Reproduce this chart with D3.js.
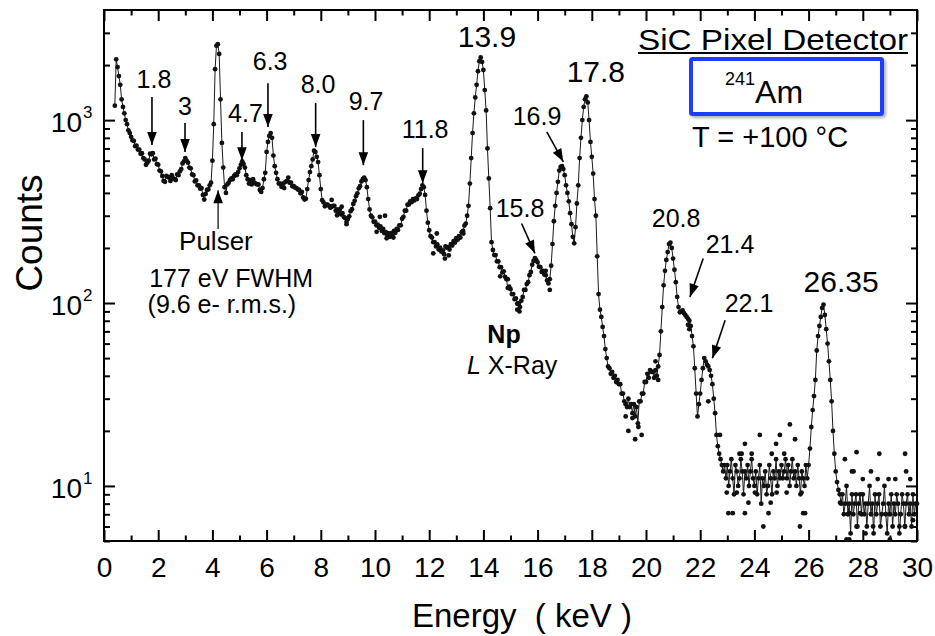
<!DOCTYPE html>
<html>
<head>
<meta charset="utf-8">
<script src="https://cdn.jsdelivr.net/npm/d3@7"></script>
<style>
  html, body { margin: 0; padding: 0; background: #ffffff; }
  svg { display: block; font-family: "Liberation Sans", Arial, Helvetica, sans-serif; }
</style>
</head>
<body>
<svg id="chart" width="935" height="636"></svg>
<script>
// ---- Spectrum: 241Am source, SiC pixel detector at +100 °C ----
// Channel calibration: first bin energy and bin width (keV)
const binStart = 0.40;
const binWidth = 0.05;

// Counts per bin, one row per keV
const counts = [
  1200, 2150, 1950, 1740, 1560, 1300, 1180, 1090, 1000, 950, 880, 850,                           // 0.40-0.95
  810, 775, 770, 720, 725, 690, 690, 655, 660, 620, 610, 570, 585, 600, 655, 650, 660, 610, 615, 575, // 1
  570, 530, 525, 495, 465, 460, 495, 490, 485, 465, 500, 480, 475, 470, 505, 500, 525, 540, 580, 595, // 2
  620, 600, 585, 550, 545, 505, 500, 462, 468, 440, 440, 422, 425, 390, 368, 395, 415, 418, 440, 455, // 3
  600, 950, 1900, 2550, 2600, 2300, 1300, 750, 550, 430, 400, 445, 455, 470, 480, 475, 495, 505, 500, 520, // 4
  545, 570, 595, 575, 550, 500, 475, 450, 470, 445, 475, 455, 450, 445, 445, 415, 405, 425, 475, 515, // 5
  670, 760, 820, 850, 800, 640, 560, 515, 475, 450, 450, 432, 450, 425, 460, 465, 485, 455, 455, 435, // 6
  435, 428, 425, 418, 415, 398, 405, 378, 368, 372, 420, 470, 520, 560, 610, 680, 670, 630, 590, 500, // 7
  420, 365, 355, 338, 345, 345, 340, 332, 336, 340, 340, 320, 325, 310, 325, 305, 310, 295, 292, 278, // 8
  288, 298, 318, 326, 348, 362, 384, 398, 424, 436, 462, 475, 485, 470, 430, 370, 325, 300, 294, 278, // 9
  279, 266, 268, 258, 262, 248, 254, 241, 244, 238, 240, 230, 241, 236, 248, 242, 254, 251, 266, 266, // 10
  289, 296, 320, 320, 345, 346, 360, 356, 370, 364, 373, 370, 388, 396, 420, 440, 430, 390, 320, 275, // 11
  250, 232, 228, 215, 215, 204, 209, 196, 201, 191, 194, 185, 204, 201, 202, 196, 210, 206, 218, 214, // 12
  226, 222, 232, 228, 244, 248, 265, 272, 300, 340, 450, 620, 850, 1090, 1330, 1560, 1850, 2100, 2200, 2080, // 13
  1880, 1460, 1130, 700, 480, 330, 215, 195, 183, 183, 169, 169, 157, 157, 147, 149, 139, 135, 121, 123, // 14
  119, 112, 112, 105, 106, 99, 100, 95, 103, 108, 118, 118, 127, 130, 142, 148, 162, 170, 176, 172,   // 15
  167, 158, 157, 148, 150, 143, 142, 133, 128, 135, 160, 210, 280, 340, 400, 460, 530, 555, 560, 540, // 16
  500, 440, 400, 360, 310, 270, 230, 212, 260, 350, 440, 620, 800, 1000, 1180, 1300, 1350, 1250, 1000, 760, // 17
  630, 510, 370, 300, 180, 112, 92, 84, 74, 66, 56, 50, 45, 44, 41, 42, 39, 40, 37, 38,               // 18
  36, 36, 32, 32, 29, 28, 27, 30, 27, 28, 25, 28, 24, 27, 22, 29, 29, 32, 32, 37,                     // 19
  37, 41, 39, 43, 42, 42, 39, 43, 40, 45, 52, 70, 95, 125, 150, 172, 190, 210, 214, 200,              // 20
  175, 152, 130, 108, 95, 89, 90, 91, 88, 86, 84, 82, 80, 75, 66, 58, 44, 32, 24, 28,                 // 21
  32, 38, 44, 50, 48, 46, 45, 43, 40, 36, 30, 25, 19, 16.5, 15, 14, 13, 12, 13, 11,                  // 22
  13, 10, 12, 14, 11, 9, 13, 12, 10, 11, 14, 12, 9, 12, 11, 13, 10, 12, 14, 11,                       // 23
  10, 12, 9, 11, 13, 8, 11, 10, 12, 9, 10, 13, 11, 9, 12, 11, 14, 10, 12, 11,                         // 24
  13, 11, 12, 14, 11, 13, 10, 12, 14, 11, 12, 10, 13, 11, 9, 12, 11, 10, 13, 11,                      // 25
  13, 16, 21, 26, 31, 38, 55, 66, 75, 84, 94, 98, 86, 72, 60, 48, 38, 29, 20, 15,                     // 26
  12, 10.5, 9.5, 9, 8, 9, 7, 8, 10, 7, 8, 5.5, 9, 7, 8, 9, 6, 8, 9, 7,                                // 27
  9, 7, 8, 6, 8, 10, 7, 8, 5.5, 9, 7, 8, 9, 6, 7, 8, 10, 7, 5.5, 8,                                   // 28
  7, 9, 6, 8, 7, 9, 8, 5.5, 7, 9, 8, 6, 8, 9, 7, 8, 6, 9, 7, 8,                                       // 29
  8                                                                                                   // 30
];

// Scattered single-channel readings that sit off the trace (keV, counts)
const strayEnergy = [
  8.40, 8.60, 8.77, 8.95, 10.18, 10.37, 10.06, 10.43, 10.68, 12.15, 12.28, 12.58, 12.72, 13.26,
  14.62, 14.90, 15.25, 15.33, 16.45, 16.30,
  19.35, 19.60, 19.72, 19.84, 19.50, 19.25, 20.35, 20.45, 22.30, 21.55, 21.60,
  22.73, 23.65, 24.20, 24.94, 25.31, 25.50, 23.53, 23.90, 24.64, 25.10, 22.98, 23.35, 24.02, 24.82,
  25.19, 25.74, 23.04, 23.20, 23.65, 23.78, 24.33, 24.52, 25.68, 25.80, 25.87, 24.60, 23.45, 24.80,
  27.77, 28.61, 29.56, 27.34, 27.60, 27.66, 28.00, 28.30, 28.55, 28.95, 29.20, 29.60, 29.75, 27.16,
  27.50, 27.90, 27.77, 28.38, 29.56, 27.40, 27.50, 29.00, 28.10, 29.35, 29.85
];
const strayCounts = [
  366, 302, 336, 270, 296, 300, 245, 226, 228, 187, 240, 175, 182, 240,
  140, 135, 92, 90, 118, 150,
  20, 18, 21, 19, 23.5, 24, 48, 38, 29, 76, 72,
  19, 17, 19, 19, 21.7, 18, 15, 15, 15, 15, 9.2, 9.2, 9.2, 9.2,
  9.2, 9.2, 7.1, 7.1, 7.1, 8.1, 6, 7.1, 6, 7.1, 7.1, 8.1, 15, 17,
  15.3, 15, 15, 14, 12, 12, 10.9, 12, 10.9, 10.9, 10.9, 12, 10.9, 8.1,
  7.1, 7.1, 6, 6, 6, 5.1, 5.1, 5.1, 5.5, 6, 6.5
];

// Axis ticks
const xTicks = [0, 2, 4, 6, 8, 10, 12, 14, 16, 18, 20, 22, 24, 26, 28, 30];
const xMinorTicks = [1, 3, 5, 7, 9, 11, 13, 15, 17, 19, 21, 23, 25, 27, 29];
const yTicks = [10, 100, 1000];
const yTickExponents = ["1", "2", "3"];
const yMinorTicks = [5, 6, 7, 8, 9, 20, 30, 40, 50, 60, 70, 80, 90,
                     200, 300, 400, 500, 600, 700, 800, 900, 2000, 3000];

// Peak annotations: label, text anchor (keV, counts), optional arrow from/to (keV, counts)
const peakNotes = [
  { text: "1.8",   at: [1.845, 1496], size: 25, arrow: [[1.77, 1336], [1.77, 730]] },
  { text: "3",     at: [2.99, 1065],  size: 25, arrow: [[2.99, 963],  [2.99, 669]] },
  { text: "4.7",   at: [5.22, 975],   size: 25, arrow: [[5.09, 860],  [5.09, 604]] },
  { text: "6.3",   at: [6.13, 1876],  size: 25, arrow: [[6.05, 1593], [6.05, 916]] },
  { text: "8.0",   at: [7.90, 1404],  size: 25, arrow: [[7.81, 1239], [7.81, 712]] },
  { text: "9.7",   at: [9.67, 1134],  size: 25, arrow: [[9.57, 1000], [9.57, 567]] },
  { text: "11.8",  at: [11.85, 797],  size: 25, arrow: [[11.76, 703], [11.76, 452]] },
  { text: "13.9",  at: [14.13, 2506], size: 30 },
  { text: "16.9",  at: [15.98, 939],  size: 25, arrow: [[16.34, 863], [16.95, 592]] },
  { text: "15.8",  at: [15.35, 295],  size: 25, arrow: [[15.41, 272], [15.90, 187]] },
  { text: "17.8",  at: [18.15, 1613], size: 30 },
  { text: "20.8",  at: [21.11, 260],  size: 25 },
  { text: "21.4",  at: [23.10, 188],  size: 25, arrow: [[22.11, 175], [21.62, 108]] },
  { text: "22.1",  at: [23.80, 89],   size: 25, arrow: [[22.92, 80.5], [22.45, 49.9]] },
  { text: "26.35", at: [27.20, 115],  size: 30 }
];

// ---- Layout ----
const svg = d3.select("#chart");
const plot = { left: 104, right: 917, top: 10, bottom: 541 };

const x = d3.scaleLinear().domain([0, 30]).range([plot.left, plot.right]);
const y = d3.scaleLog().domain([5, 4000]).range([plot.bottom, plot.top]);

const defs = svg.append("defs");
defs.append("marker")
  .attr("id", "head")
  .attr("markerUnits", "userSpaceOnUse")
  .attr("viewBox", "-14 -6 15 12")
  .attr("refX", 0).attr("refY", 0)
  .attr("markerWidth", 15).attr("markerHeight", 12)
  .attr("orient", "auto")
  .append("path")
  .attr("d", "M0,0 L-13,-4.8 L-13,4.8 Z")
  .attr("fill", "#000");

const shadow = defs.append("filter").attr("id", "boxShadow")
  .attr("x", "-10%").attr("y", "-20%").attr("width", "130%").attr("height", "160%");
shadow.append("feDropShadow").attr("dx", 2).attr("dy", 2)
  .attr("stdDeviation", 1.5).attr("flood-color", "#777").attr("flood-opacity", 0.6);

// ---- Axes (ticks point inward on all four sides) ----
function styleAxis(g) {
  g.select(".domain").remove();
  g.selectAll(".tick line").attr("stroke", "#000").attr("stroke-width", 2);
}

svg.append("g").attr("transform", `translate(0,${plot.bottom})`)
  .call(d3.axisBottom(x).tickValues(xTicks).tickSize(-11).tickSizeOuter(0).tickPadding(16)
    .tickFormat(d3.format("d")))
  .call(styleAxis)
  .call(g => g.selectAll("text").attr("font-size", 28).attr("fill", "#000")
    .attr("font-family", "Liberation Sans, Arial, sans-serif"));
svg.append("g").attr("transform", `translate(0,${plot.bottom})`)
  .call(d3.axisBottom(x).tickValues(xMinorTicks).tickSize(-5.5).tickFormat(""))
  .call(styleAxis);
svg.append("g").attr("transform", `translate(0,${plot.top})`)
  .call(d3.axisTop(x).tickValues(xTicks).tickSize(-11).tickFormat(""))
  .call(styleAxis);
svg.append("g").attr("transform", `translate(0,${plot.top})`)
  .call(d3.axisTop(x).tickValues(xMinorTicks).tickSize(-5.5).tickFormat(""))
  .call(styleAxis);

svg.append("g").attr("transform", `translate(${plot.left},0)`)
  .call(d3.axisLeft(y).tickValues(yTicks).tickSize(-11).tickFormat(""))
  .call(styleAxis);
svg.append("g").attr("transform", `translate(${plot.left},0)`)
  .call(d3.axisLeft(y).tickValues(yMinorTicks).tickSize(-6).tickFormat(""))
  .call(styleAxis);
svg.append("g").attr("transform", `translate(${plot.right},0)`)
  .call(d3.axisRight(y).tickValues(yTicks).tickSize(-11).tickFormat(""))
  .call(styleAxis);
svg.append("g").attr("transform", `translate(${plot.right},0)`)
  .call(d3.axisRight(y).tickValues(yMinorTicks).tickSize(-6).tickFormat(""))
  .call(styleAxis);

// Power-of-ten labels on the log axis
const yLab = svg.append("g").attr("fill", "#000");
yTicks.forEach((v, i) => {
  yLab.append("text").attr("x", plot.left - 22).attr("y", y(v) + 12)
    .attr("text-anchor", "end").attr("font-size", 28).text("10");
  yLab.append("text").attr("x", plot.left - 21).attr("y", y(v) - 2)
    .attr("text-anchor", "start").attr("font-size", 17).text(yTickExponents[i]);
});

// Frame
svg.append("rect")
  .attr("x", plot.left).attr("y", plot.top)
  .attr("width", plot.right - plot.left).attr("height", plot.bottom - plot.top)
  .attr("fill", "none").attr("stroke", "#000").attr("stroke-width", 2);

// Axis titles
svg.append("text")
  .attr("transform", `translate(42,233) rotate(-90)`)
  .attr("text-anchor", "middle").attr("font-size", 37).attr("fill", "#000")
  .text("Counts");
svg.append("text")
  .attr("x", 522).attr("y", 627)
  .attr("text-anchor", "middle").attr("font-size", 33).attr("fill", "#000")
  .style("white-space", "pre")
  .text("Energy  ( keV )");

// ---- Spectrum ----
const spectrum = counts.map((c, i) => ({ e: binStart + i * binWidth, c }));
const stray = strayEnergy.map((e, i) => ({ e, c: strayCounts[i] }));

svg.append("path")
  .datum(spectrum)
  .attr("fill", "none").attr("stroke", "#1a1a1a").attr("stroke-width", 1)
  .attr("d", d3.line().x(d => x(d.e)).y(d => y(d.c)));

svg.append("g").attr("fill", "#111")
  .selectAll("circle").data(spectrum.concat(stray)).join("circle")
  .attr("cx", d => x(d.e)).attr("cy", d => y(d.c)).attr("r", 2.4);

// ---- Peak labels and arrows ----
const notes = svg.append("g").attr("fill", "#000");
peakNotes.forEach(n => {
  notes.append("text")
    .attr("x", x(n.at[0])).attr("y", y(n.at[1]))
    .attr("text-anchor", "middle").attr("font-size", n.size)
    .text(n.text);
  if (n.arrow) {
    notes.append("line")
      .attr("x1", x(n.arrow[0][0])).attr("y1", y(n.arrow[0][1]))
      .attr("x2", x(n.arrow[1][0])).attr("y2", y(n.arrow[1][1]))
      .attr("stroke", "#000").attr("stroke-width", 1.6)
      .attr("marker-end", "url(#head)");
  }
});

// Pulser note
notes.append("line")
  .attr("x1", x(4.21)).attr("y1", y(254))
  .attr("x2", x(4.21)).attr("y2", y(414))
  .attr("stroke", "#000").attr("stroke-width", 1.2)
  .attr("marker-end", "url(#head)");
notes.append("text").attr("x", x(4.13)).attr("y", y(195))
  .attr("text-anchor", "middle").attr("font-size", 26).text("Pulser");
notes.append("text").attr("x", x(4.69)).attr("y", y(122))
  .attr("text-anchor", "middle").attr("font-size", 25).text("177 eV FWHM");
notes.append("text").attr("x", x(4.35)).attr("y", y(88))
  .attr("text-anchor", "middle").attr("font-size", 25).text("(9.6 e- r.m.s.)");

// Np L X-ray group
notes.append("text").attr("x", x(14.76)).attr("y", y(60.4))
  .attr("text-anchor", "middle").attr("font-size", 25).attr("font-weight", "bold").text("Np");
const lx = notes.append("text").attr("x", x(15.06)).attr("y", y(40.9))
  .attr("text-anchor", "middle").attr("font-size", 25).style("white-space", "pre");
lx.append("tspan").attr("font-style", "italic").text("L");
lx.append("tspan").text(" X-Ray");

// ---- Detector / source legend (top right) ----
const legend = svg.append("g").attr("fill", "#000");
legend.append("text").attr("x", 773).attr("y", 50)
  .attr("text-anchor", "middle").attr("font-size", 30)
  .attr("textLength", 270).attr("lengthAdjust", "spacingAndGlyphs")
  .text("SiC Pixel Detector");
legend.append("line").attr("x1", 638).attr("x2", 908).attr("y1", 53).attr("y2", 53)
  .attr("stroke", "#000").attr("stroke-width", 2);

legend.append("rect")
  .attr("x", 691).attr("y", 59).attr("width", 191).attr("height", 55)
  .attr("fill", "#fff").attr("stroke", "#1e3cff").attr("stroke-width", 4)
  .attr("rx", 1.5).attr("filter", "url(#boxShadow)");
const src = legend.append("text").attr("x", 725).attr("y", 103).attr("font-size", 32);
src.append("tspan").attr("font-size", 18).attr("dy", -18).text("241");
src.append("tspan").attr("dy", 18).text("Am");

legend.append("text").attr("x", 692).attr("y", 147)
  .attr("font-size", 29).style("white-space", "pre")
  .text("T = +100 °C");
</script>
</body>
</html>
